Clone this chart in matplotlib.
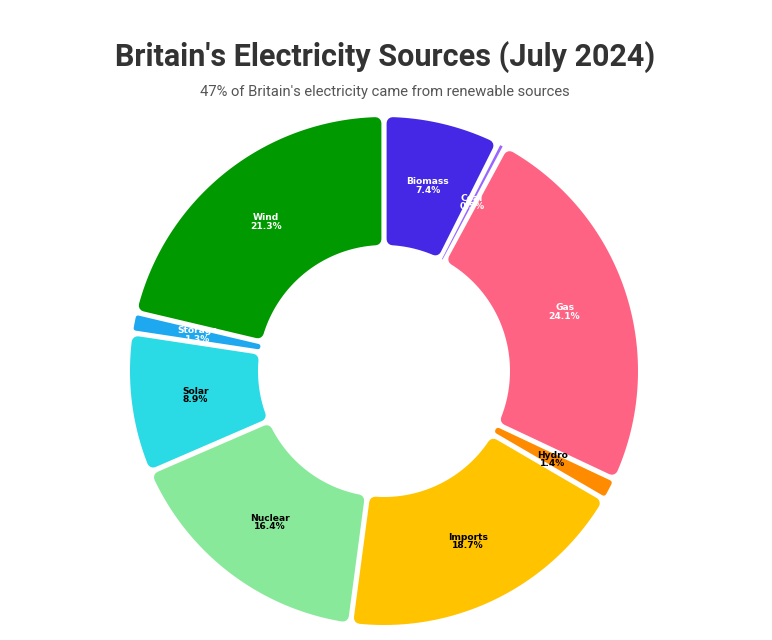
import numpy as np
import matplotlib
matplotlib.use("Agg")
import matplotlib.pyplot as plt
from matplotlib.patches import Polygon

# ---- data ----
sources = ["Biomass", "Coal", "Gas", "Hydro", "Imports", "Nuclear", "Solar", "Storage", "Wind"]
shares = [7.4, 0.5, 24.1, 1.4, 18.7, 16.4, 8.9, 1.3, 21.3]
colors = ["#4428E6", "#9966FF", "#FF6384", "#FF8C00", "#FFC300", "#89E99A", "#2ADAE5", "#1EA8EF", "#009900"]
label_colors = ["white", "white", "white", "black", "black", "black", "black", "white", "white"]
title = "Britain's Electricity Sources (July 2024)"
subtitle = "47% of Britain's electricity came from renewable sources"

W, H, DPI = 772, 640, 100
fig = plt.figure(figsize=(W / DPI, H / DPI), dpi=DPI)
ax = fig.add_axes([0, 0, 1, 1])
ax.set_xlim(0, W)
ax.set_ylim(H, 0)
ax.axis("off")

cx, cy = 384, 371
R, r = 254, 126
d = 2.6      # half gap
rc = 6.0     # corner radius
px2pt = 72.0 / DPI


def pt(rho, phi):
    return cx + rho * np.sin(phi), cy - rho * np.cos(phi)


total = sum(shares)
start = 0.0
for name, val, col, lc in zip(sources, shares, colors, label_colors):
    span = val / total * 2 * np.pi
    p1, p2 = start, start + span
    h = span / 2
    mid = start + h
    rci = (r * np.sin(h) - d) / (1 - np.sin(h)) * 0.85
    rci = float(np.clip(rci, 0, rc))
    Ro, Ri, di = R - rci, r + rci, d + rci

    def angles(rad):
        off = np.arcsin(min(di / rad, 1.0))
        a1, a2 = p1 + off, p2 - off
        minw = 0.7 / rad
        if a2 - a1 < minw:
            a1, a2 = mid - minw / 2, mid + minw / 2
        return a1, a2

    a1, a2 = angles(Ro)
    b1, b2 = angles(Ri)
    to = np.linspace(a1, a2, 120)
    ti = np.linspace(b2, b1, 80)
    xs = np.concatenate([pt(Ro, to)[0], pt(Ri, ti)[0]])
    ys = np.concatenate([pt(Ro, to)[1], pt(Ri, ti)[1]])
    poly = Polygon(np.column_stack([xs, ys]), closed=True, facecolor=col,
                   edgecolor=col if rci > 0 else "none",
                   linewidth=2 * rci * px2pt, joinstyle="round")
    ax.add_patch(poly)

    lx, ly = pt((R + r) / 2, mid)
    ax.text(lx, ly, f"{name}\n{val}%", ha="center", va="center", color=lc,
            fontsize=6.6, fontweight="bold", family="DejaVu Sans", linespacing=0.95)
    start = p2

t = ax.text(385, 57, title, ha="center", va="center", fontsize=22, fontweight="bold",
            family="Roboto", color="#333333")
s = ax.text(385, 92, subtitle, ha="center", va="center", fontsize=11,
            family="Roboto", color="#555555")

# fit widths to reference layout
fig.canvas.draw()
rend = fig.canvas.get_renderer()
for txt, target in ((t, 540), (s, 370)):
    w = txt.get_window_extent(rend).width
    txt.set_fontsize(txt.get_fontsize() * target / w)

fig.savefig("out.png", dpi=DPI, facecolor="white")
